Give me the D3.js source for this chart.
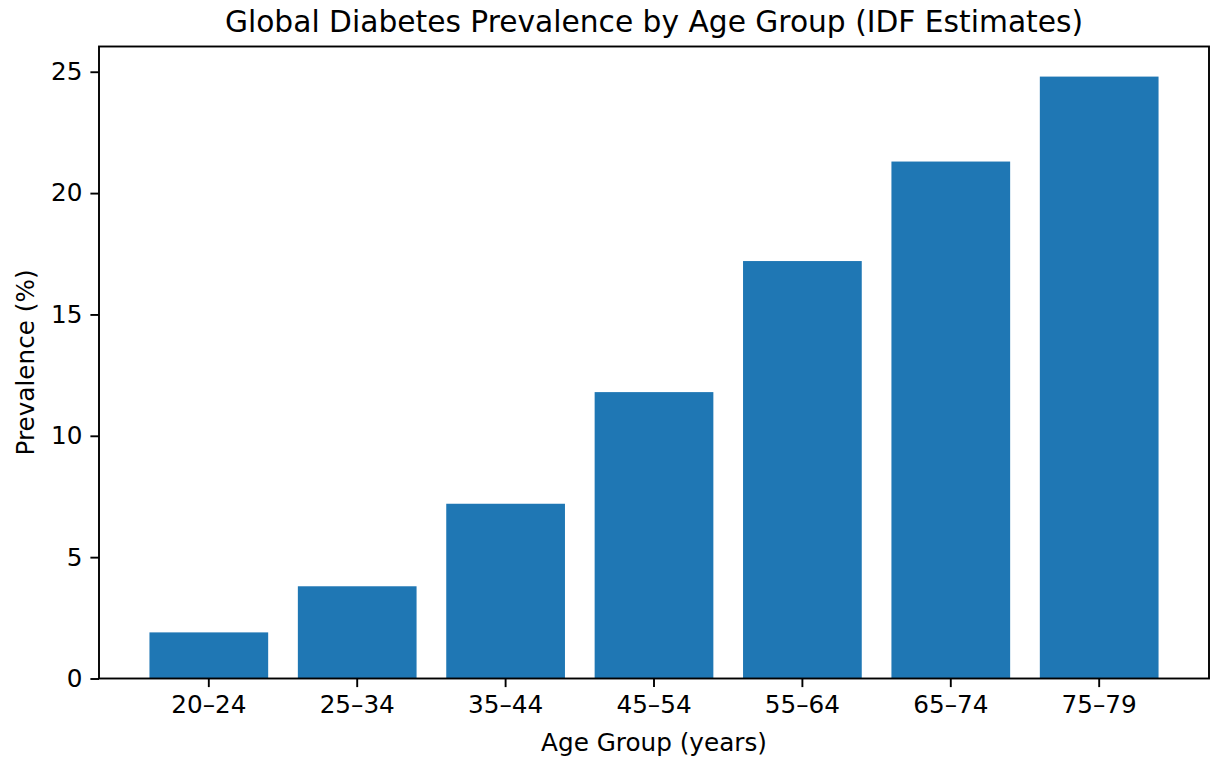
<!DOCTYPE html>
<html>
<head>
<meta charset="utf-8">
<script src="https://cdn.jsdelivr.net/npm/d3@7"></script>
<style>
  html, body { margin: 0; padding: 0; background: #fff; }
  svg { display: block; font-family: "DejaVu Sans", sans-serif; }
</style>
</head>
<body>
<svg id="chart" width="1210" height="758"></svg>
<script>
// === Data ===
const ageGroups = ["20–24", "25–34", "35–44", "45–54", "55–64", "65–74", "75–79"];
const prevalence = [1.9, 3.8, 7.2, 11.8, 17.2, 21.3, 24.8];
const yTicks = [0, 5, 10, 15, 20, 25];

const svg = d3.select("#chart");
const width = +svg.attr("width");
const height = +svg.attr("height");
const margin = { top: 46.5, right: 1, bottom: 79.5, left: 99 };
const innerWidth = width - margin.left - margin.right;
const innerHeight = height - margin.top - margin.bottom;

const chartGroup = svg.append("g")
  .attr("transform", `translate(${margin.left}, ${margin.top})`);

// matplotlib-like band layout: bar width 0.8, 5% margins
const xScale = d3.scaleBand()
  .domain(ageGroups)
  .range([0, innerWidth])
  .paddingInner(0.2)
  .paddingOuter(0.34);

const yScale = d3.scaleLinear()
  .domain([0, d3.max(prevalence) * 1.05])
  .range([innerHeight, 0]);

const data = ageGroups.map((g, i) => ({ group: g, value: prevalence[i] }));

// === Staplar ===
chartGroup.selectAll(".bar")
  .data(data)
  .enter()
  .append("rect")
  .attr("class", "bar")
  .attr("x", d => xScale(d.group))
  .attr("y", d => yScale(d.value))
  .attr("width", xScale.bandwidth())
  .attr("height", d => innerHeight - yScale(d.value))
  .attr("fill", "#1f77b4");

// === Axlar ===
const yAxis = chartGroup.append("g")
  .call(d3.axisLeft(yScale).tickValues(yTicks).tickSize(8.6).tickPadding(8));

const xAxis = chartGroup.append("g")
  .attr("transform", `translate(0, ${innerHeight})`)
  .call(d3.axisBottom(xScale).tickSize(8.6).tickPadding(8).tickSizeOuter(0));

[xAxis, yAxis].forEach(ax => {
  ax.select(".domain").remove();
  ax.selectAll(".tick line").attr("stroke", "#000").attr("stroke-width", 1.9);
  ax.selectAll("text")
    .attr("font-family", "DejaVu Sans, sans-serif")
    .attr("font-size", "24.7px")
    .attr("fill", "#000");
});
xAxis.selectAll("text").attr("dy", "0.72em");

// spines
chartGroup.append("rect")
  .attr("x", 0)
  .attr("y", 0)
  .attr("width", innerWidth)
  .attr("height", innerHeight)
  .attr("fill", "none")
  .attr("stroke", "#000")
  .attr("stroke-width", 1.9);

// === Titlar ===
svg.append("text")
  .attr("x", margin.left + innerWidth / 2)
  .attr("y", 32)
  .attr("text-anchor", "middle")
  .attr("font-size", "29.7px")
  .attr("fill", "#000")
  .text("Global Diabetes Prevalence by Age Group (IDF Estimates)");

svg.append("text")
  .attr("x", margin.left + innerWidth / 2)
  .attr("y", 751)
  .attr("text-anchor", "middle")
  .attr("font-size", "24.7px")
  .attr("fill", "#000")
  .text("Age Group (years)");

svg.append("text")
  .attr("transform", `translate(34, ${margin.top + innerHeight / 2}) rotate(-90)`)
  .attr("text-anchor", "middle")
  .attr("font-size", "24.7px")
  .attr("fill", "#000")
  .text("Prevalence (%)");
</script>
</body>
</html>
